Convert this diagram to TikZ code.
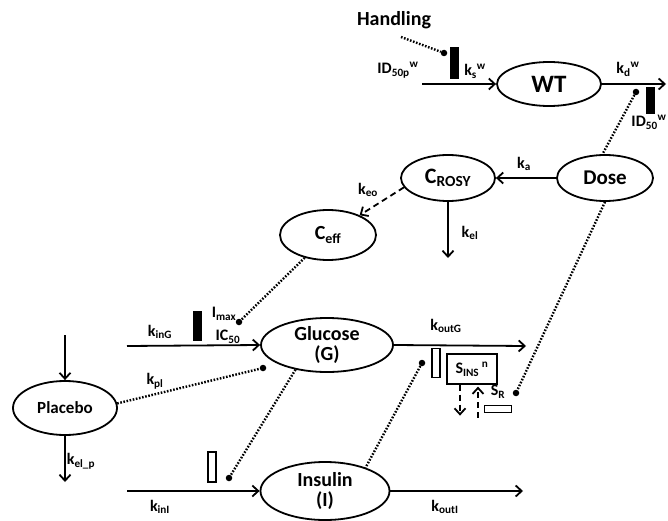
\documentclass[tikz,border=0pt]{standalone}
\usepackage{fontspec}
\setmainfont{Carlito}
\usetikzlibrary{shapes.geometric,arrows.meta,positioning}

\newcommand{\sub}[2]{#1\textsubscript{#2}}
\newcommand{\subsup}[3]{#1\textsubscript{#2}\textsuperscript{#3}}
\newcommand{\fs}[1]{\bfseries\fontsize{#1}{#1}\selectfont}

\tikzset{
  comp/.style={ellipse,draw,line width=1.8pt,align=center,inner sep=0pt,font=\fs{20}},
  flow/.style={->,line width=1.8pt},
  dotline/.style={line width=2.4pt,dash pattern=on 1.6pt off 1.6pt},
  dline/.style={line width=1.8pt,dash pattern=on 6pt off 4pt},
  dot/.style={circle,fill,inner sep=0pt,minimum size=6.5pt},
  fullbar/.style={rectangle,draw,fill=black,line width=0.8pt,inner sep=0pt,minimum width=8pt},
  openbar/.style={rectangle,draw,line width=1.2pt,inner sep=0pt,minimum width=8pt},
  lab/.style={font=\fs{16},inner sep=1pt}
}

\begin{document}
\begin{tikzpicture}[x=1pt,y=-1pt,>={Straight Barb[length=6pt,width=11pt]}]
    \useasboundingbox (0,0) rectangle (668,521);

    % compartments
    \node[comp,minimum width=104pt,minimum height=44pt,font=\fs{25}] (wt) at (549,84) {WT};
    \node[comp,minimum width=96pt,minimum height=46pt,font=\fs{21}] (dose) at (605,178) {Dose};
    \node[comp,minimum width=94pt,minimum height=46pt,font=\fs{22}] (crosy) at (448,178) {C\textsubscript{ROSY}};
    \node[comp,minimum width=96pt,minimum height=50pt] (ceff) at (328,235) {C\textsubscript{eff}};
    \node[comp,minimum width=132pt,minimum height=54pt] (glucose) at (327,345) {Glucose\\(G)};
    \node[comp,minimum width=104pt,minimum height=54pt,font=\fs{17}] (placebo) at (65,408) {Placebo};
    \node[comp,minimum width=129pt,minimum height=58pt] (insulin) at (325,491) {Insulin\\(I)};

    % free ends
    \coordinate (wtIn) at (422,84);
    \coordinate (wtOut) at (666,84);
    \coordinate (kelEnd) at (448,258);
    \coordinate (gIn) at (127,346);
    \coordinate (gOut) at (526,346);
    \coordinate (iIn) at (127,491);
    \coordinate (iOut) at (523,491);
    \coordinate (pIn) at (65,335);
    \coordinate (pOut) at (65,482);
    \coordinate (hStart) at (401,37);

    % bars and dots
    \node[fullbar,minimum height=31pt] (barKs) at (454,63) {};
    \node[fullbar,minimum height=26pt] (barKd) at (650,100) {};
    \node[fullbar,minimum height=29pt] (barKin) at (197,326) {};
    \node[openbar,minimum height=29pt] (barOut) at (436,363) {};
    \node[openbar,minimum height=30pt] (barIns) at (212,467) {};
    \node[openbar,minimum width=27pt,minimum height=7pt] (barSr) at (498,409) {};
    \node[dot] (dotH) at (444,53) {};
    \node[dot] (dotKd) at (636,92) {};
    \node[dot] (dotImax) at (239,322) {};
    \node[dot] (dotPl) at (263,368) {};
    \node[dot] (dotOut) at (422,363) {};
    \node[dot] (dotIns) at (229,478) {};
    \node[dot] (dotSr) at (516,393) {};

    % S_INS box
    \node[rectangle,draw,line width=1.2pt,minimum width=50pt,minimum height=30pt,lab] (sins) at (472,369) {\sub{S}{INS}\,\textsuperscript{n}};

    % solid flows
    \draw[flow] (wtIn) -- (wt.west);
    \draw[flow] (wt.east) -- (wtOut);
    \draw[flow] (dose.west) -- (crosy.east);
    \draw[flow] (crosy.south) -- (kelEnd);
    \draw[flow] (gIn) -- (glucose.west);
    \draw[flow] (glucose.east) -- (gOut);
    \draw[flow] (iIn) -- (insulin.west);
    \draw[flow] (insulin.east) -- (iOut);
    \draw[flow] (pIn) -- (placebo.north);
    \draw[flow] (placebo.south) -- (pOut);

    % dashed
    \draw[dline,->] (crosy.192) -- (ceff.32);
    \draw[dline,->] ([xshift=-12pt]sins.south) -- ++(0,31);
    \draw[dline,->] ([xshift=6pt,yshift=-33pt]sins.south) -- ([xshift=6pt,yshift=-2pt]sins.south);

    % dotted links
    \draw[dotline] (hStart) -- (dotH);
    \draw[dotline] (dotKd) -- (dose.96);
    \draw[dotline] (dose.south) -- (dotSr);
    \draw[dotline] (ceff) -- (dotImax);
    \draw[dotline] (placebo.5) -- (dotPl);
    \draw[dotline] (glucose.218) -- (dotIns);
    \draw[dotline] (dotOut) -- (insulin.30);

    % labels
    \node[lab,font=\fs{20}] at (394,20) {Handling};
    \node[lab] at (398,70) {\subsup{ID}{50p}{w}};
    \node[lab] at (475,71) {\subsup{k}{s}{w}};
    \node[lab] at (628,69) {\subsup{k}{d}{w}};
    \node[lab] at (649,122) {\subsup{ID}{50}{w}};
    \node[lab] at (524,164) {\sub{k}{a}};
    \node[lab] at (470,233) {\sub{k}{el}};
    \node[lab] at (368,190) {\sub{k}{eo}};
    \node[lab] at (160,332) {\sub{k}{inG}};
    \node[lab] at (224,314) {\sub{I}{max}};
    \node[lab] at (228,337) {\sub{IC}{50}};
    \node[lab] at (155,381) {\sub{k}{pl}};
    \node[lab] at (446,326) {\sub{k}{outG}};
    \node[lab] at (498,392) {\sub{S}{R}};
    \node[lab] at (81,461) {\sub{k}{el\_p}};
    \node[lab] at (160,507) {\sub{k}{inI}};
    \node[lab] at (445,507) {\sub{k}{outI}};
\end{tikzpicture}
\end{document}
